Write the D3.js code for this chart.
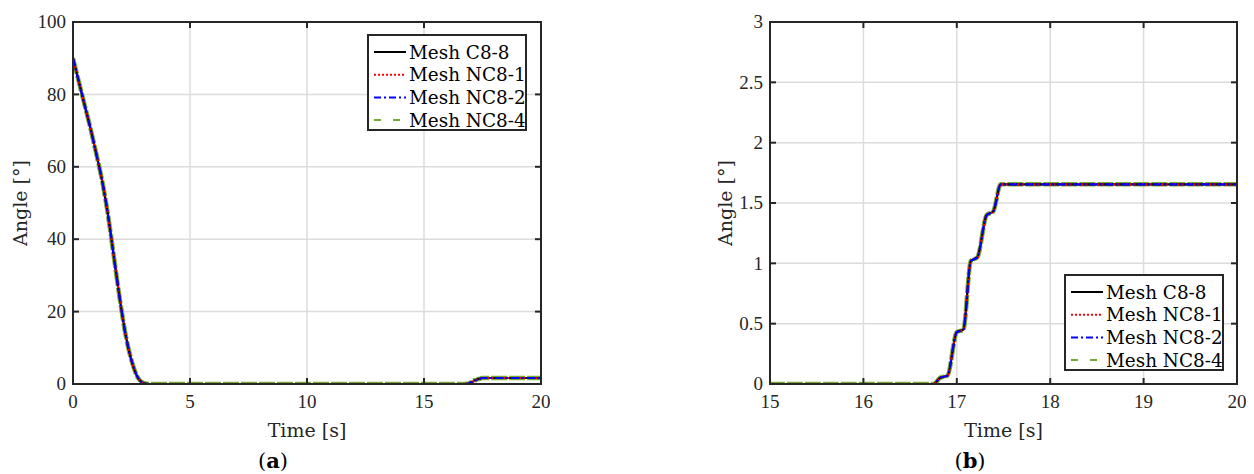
<!DOCTYPE html>
<html>
<head>
<meta charset="utf-8">
<script src="https://cdn.jsdelivr.net/npm/d3@7"></script>
<style>
  html, body { margin: 0; padding: 0; background: #fff; }
  svg { display: block; }
</style>
</head>
<body>
<svg id="chart" width="1254" height="474"></svg>
<script>
// Rotation angle history (same for all four meshes)
const timeS = [0, 0.25, 0.5, 0.75, 1.0, 1.25, 1.5, 1.75, 2.0, 2.25, 2.5, 2.75, 3.0, 3.25,
               16.75, 16.82, 16.9, 17.0, 17.07, 17.15, 17.22, 17.32, 17.39, 17.47, 20];
const angleC88  = [90, 83.5, 77, 70.5, 63.5, 56, 46.5, 35, 23.5, 13.5, 6.5, 2, 0.3, 0,
                   0, 0.05, 0.07, 0.43, 0.45, 1.02, 1.05, 1.40, 1.43, 1.655, 1.655];
const angleNC81 = angleC88.slice();
const angleNC82 = angleC88.slice();
const angleNC84 = angleC88.slice();

const seriesNames = ["Mesh C8-8", "Mesh NC8-1", "Mesh NC8-2", "Mesh NC8-4"];
const seriesValues = [angleC88, angleNC81, angleNC82, angleNC84];

const ticksA_x = [0, 5, 10, 15, 20];
const ticksA_y = [0, 20, 40, 60, 80, 100];
const ticksB_x = [15, 16, 17, 18, 19, 20];
const ticksB_y = [0, 0.5, 1, 1.5, 2, 2.5, 3];

const styles = [
  { color: "#000000", width: 2.2, dash: null },
  { color: "#ff0000", width: 2.2, dash: "2,2" },
  { color: "#0000ff", width: 2.2, dash: "8,3,2,3" },
  { color: "#77ac30", width: 4.5, dash: "16,2" }
];
const legendStyles = [
  { color: "#000000", width: 2, dash: null },
  { color: "#ff0000", width: 2, dash: "2,2" },
  { color: "#0000ff", width: 2, dash: "7,3,2,3" },
  { color: "#77ac30", width: 2, dash: "7,12" }
];

const svg = d3.select("#chart");
const axisColor = "#262626";
const tickFont = "'Liberation Serif', serif";
const labelFont = "'DejaVu Serif', serif";

function drawPanel(cfg) {
  const x = d3.scaleLinear().domain(cfg.xDomain).range([cfg.left, cfg.right]);
  const y = d3.scaleLinear().domain(cfg.yDomain).range([cfg.bottom, cfg.top]);
  const g = svg.append("g");

  // grid
  g.append("g").selectAll("line.gx").data(cfg.xTicks).join("line")
    .attr("x1", d => x(d)).attr("x2", d => x(d))
    .attr("y1", cfg.top).attr("y2", cfg.bottom)
    .attr("stroke", "#dcdcdc").attr("stroke-width", 1.5);
  g.append("g").selectAll("line.gy").data(cfg.yTicks).join("line")
    .attr("y1", d => y(d)).attr("y2", d => y(d))
    .attr("x1", cfg.left).attr("x2", cfg.right)
    .attr("stroke", "#dcdcdc").attr("stroke-width", 1.5);

  // data lines
  const clipId = "clip" + cfg.id;
  svg.append("clipPath").attr("id", clipId).append("rect")
    .attr("x", cfg.left).attr("y", cfg.top - 2)
    .attr("width", cfg.right - cfg.left).attr("height", cfg.bottom - cfg.top + 2);
  const line = d3.line()
    .x(d => x(d[0])).y(d => y(d[1]))
    .curve(d3.curveMonotoneX);
  const order = [3, 0, 1, 2];
  const lines = g.append("g").attr("clip-path", `url(#${clipId})`);
  order.forEach(i => {
    const pts = timeS.map((t, k) => [t, seriesValues[i][k]]);
    lines.append("path")
      .attr("d", line(pts))
      .attr("fill", "none")
      .attr("stroke", styles[i].color)
      .attr("stroke-width", styles[i].width)
      .attr("stroke-dasharray", styles[i].dash)
      .attr("stroke-linejoin", "round");
  });

  // ticks inward on all four sides
  const tl = 6;
  const tk = g.append("g").attr("stroke", axisColor).attr("stroke-width", 2);
  cfg.xTicks.forEach(d => {
    tk.append("line").attr("x1", x(d)).attr("x2", x(d)).attr("y1", cfg.bottom).attr("y2", cfg.bottom - tl);
    tk.append("line").attr("x1", x(d)).attr("x2", x(d)).attr("y1", cfg.top).attr("y2", cfg.top + tl);
  });
  cfg.yTicks.forEach(d => {
    tk.append("line").attr("y1", y(d)).attr("y2", y(d)).attr("x1", cfg.left).attr("x2", cfg.left + tl);
    tk.append("line").attr("y1", y(d)).attr("y2", y(d)).attr("x1", cfg.right).attr("x2", cfg.right - tl);
  });

  // box
  g.append("rect")
    .attr("x", cfg.left).attr("y", cfg.top)
    .attr("width", cfg.right - cfg.left).attr("height", cfg.bottom - cfg.top)
    .attr("fill", "none").attr("stroke", axisColor).attr("stroke-width", 2);

  // tick labels
  g.append("g").selectAll("text").data(cfg.xTicks).join("text")
    .attr("x", d => x(d)).attr("y", cfg.bottom + 24)
    .attr("text-anchor", "middle")
    .attr("font-family", tickFont).attr("font-size", 19).attr("fill", axisColor)
    .text(d => d);
  g.append("g").selectAll("text").data(cfg.yTicks).join("text")
    .attr("x", cfg.left - 7).attr("y", d => y(d)).attr("dy", "0.33em")
    .attr("text-anchor", "end")
    .attr("font-family", tickFont).attr("font-size", 19).attr("fill", axisColor)
    .text(d => d);

  // axis titles
  g.append("text")
    .attr("x", (cfg.left + cfg.right) / 2).attr("y", 437)
    .attr("text-anchor", "middle")
    .attr("font-family", labelFont).attr("font-size", 19).attr("fill", axisColor)
    .text("Time [s]");
  g.append("text")
    .attr("transform", `translate(${cfg.yLabelX},${(cfg.top + cfg.bottom) / 2}) rotate(-90)`)
    .attr("text-anchor", "middle")
    .attr("font-family", labelFont).attr("font-size", 19).attr("fill", axisColor)
    .text("Angle [°]");

  // legend
  const lg = g.append("g");
  lg.append("rect")
    .attr("x", cfg.legX).attr("y", cfg.legY)
    .attr("width", 158).attr("height", 95)
    .attr("fill", "#fff").attr("stroke", axisColor).attr("stroke-width", 2);
  seriesNames.forEach((name, i) => {
    const ly = cfg.legY + 17 + i * 22.7;
    lg.append("line")
      .attr("x1", cfg.legX + 6).attr("x2", cfg.legX + 38)
      .attr("y1", ly).attr("y2", ly)
      .attr("stroke", legendStyles[i].color)
      .attr("stroke-width", legendStyles[i].width)
      .attr("stroke-dasharray", legendStyles[i].dash);
    lg.append("text")
      .attr("x", cfg.legX + 41).attr("y", ly).attr("dy", "0.36em")
      .attr("font-family", labelFont).attr("font-size", 18.4).attr("fill", "#000")
      .text(name);
  });

  // panel caption
  const cap = svg.append("text")
    .attr("x", cfg.capX).attr("y", 468)
    .attr("text-anchor", "middle")
    .attr("font-family", labelFont).attr("font-size", 21).attr("fill", "#000");
  cap.append("tspan").text("(");
  cap.append("tspan").attr("font-weight", "bold").text(cfg.caption);
  cap.append("tspan").text(")");
}

drawPanel({
  id: "a", xDomain: [0, 20], yDomain: [0, 100],
  left: 73, right: 541, top: 22, bottom: 384,
  xTicks: ticksA_x, yTicks: ticksA_y,
  yLabelX: 27, legX: 368, legY: 35, capX: 273, caption: "a"
});
drawPanel({
  id: "b", xDomain: [15, 20], yDomain: [0, 3],
  left: 770, right: 1237, top: 22, bottom: 384,
  xTicks: ticksB_x, yTicks: ticksB_y,
  yLabelX: 732, legX: 1065, legY: 275, capX: 970, caption: "b"
});
</script>
</body>
</html>
